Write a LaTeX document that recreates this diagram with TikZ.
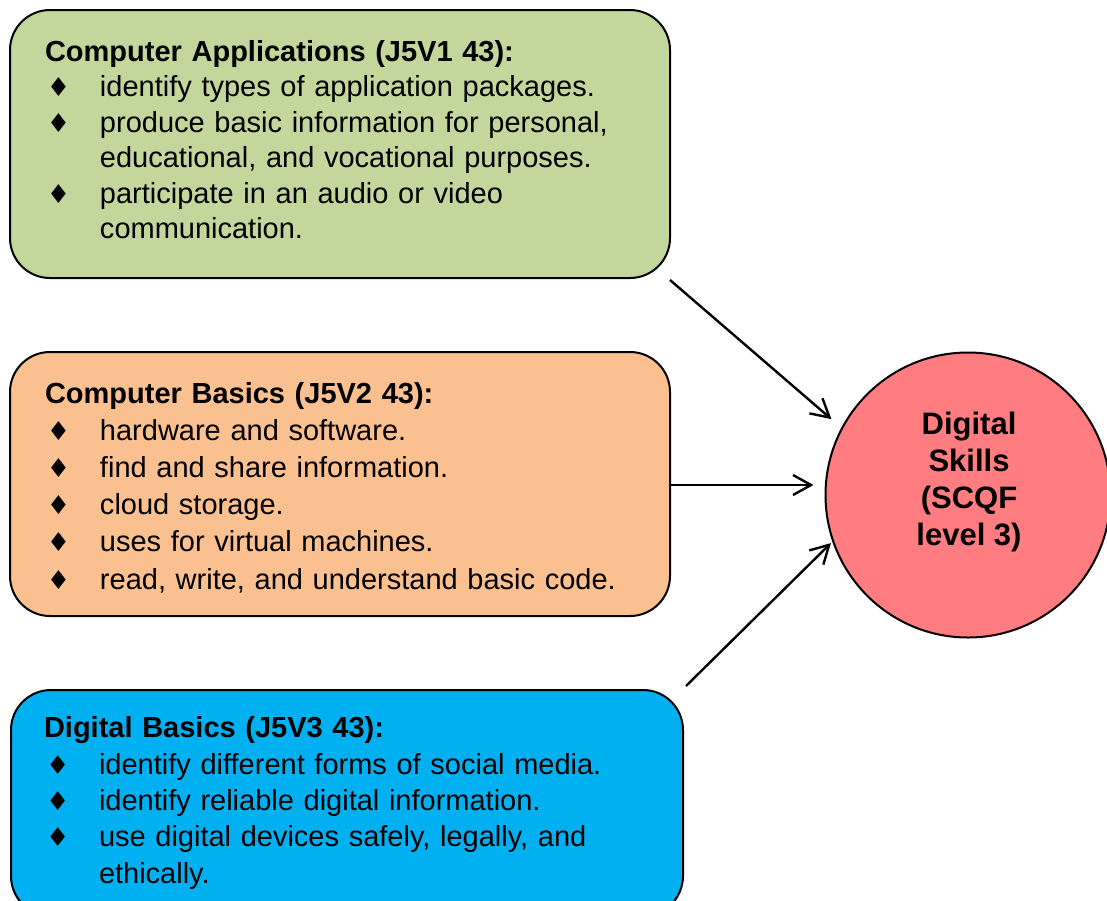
\documentclass[tikz,border=0pt]{standalone}
\usepackage{fontspec}
\setmainfont{Liberation Sans}
\newfontfamily\symfont{DejaVu Sans}
\usetikzlibrary{arrows.meta}

\definecolor{appgreen}{RGB}{195,214,155}
\definecolor{basicorange}{RGB}{250,192,144}
\definecolor{digitalblue}{RGB}{0,176,240}
\definecolor{skillred}{RGB}{255,124,128}

% bullet and hanging indent for the list items
\newcommand{\itemmark}{\makebox[27.5pt][l]{\hspace{1pt}{\symfont\fontsize{13pt}{13pt}\selectfont ♦}}}
\newcommand{\hang}{\hspace*{27.5pt}}

\tikzset{
  unitbox/.style={draw=black, line width=1pt, rounded corners=20pt,
    align=left, inner xsep=17.5pt, inner ysep=0pt},
  skillcircle/.style={circle, draw=black, line width=1pt, fill=skillred,
    minimum size=142.5pt, inner sep=0pt},
  feed/.style={draw=black, line width=1.2pt,
    -{Straight Barb[length=9pt,width=10pt,line width=1.2pt]}}
}

\begin{document}
\begin{tikzpicture}[x=0.5pt,y=-0.5pt]
  \useasboundingbox (0,0) rectangle (1107,900);
  \clip (0,0) rectangle (1107,900);

  % the three units
  \node[unitbox, fill=appgreen, text width=295pt, minimum height=134pt,
        font=\fontsize{14.5pt}{17.75pt}\selectfont] (apps) at (340,144)
  {\textbf{Computer Applications (J5V1 43):}\\
   \itemmark identify types of application packages.\\
   \itemmark produce basic information for personal,\\
   \hang educational, and vocational purposes.\\
   \itemmark participate in an audio or video\\
   \hang communication.\rule[-4.5pt]{0pt}{4.5pt}};

  \node[unitbox, fill=basicorange, text width=295pt, minimum height=132pt,
        font=\fontsize{14.5pt}{18.6pt}\selectfont] (basics) at (340,484)
  {\rule{0pt}{14pt}\textbf{Computer Basics (J5V2 43):}\\
   \itemmark hardware and software.\\
   \itemmark find and share information.\\
   \itemmark cloud storage.\\
   \itemmark uses for virtual machines.\\
   \itemmark read, write, and understand basic code.};

  \node[unitbox, fill=digitalblue, text width=303pt, minimum height=113pt,
        inner xsep=16.5pt,
        font=\fontsize{14.5pt}{18.2pt}\selectfont] (digital) at (347,803)
  {\textbf{Digital Basics (J5V3 43):}\\
   \itemmark identify different forms of social media.\\
   \itemmark identify reliable digital information.\\
   \itemmark use digital devices safely, legally, and\\
   \hang ethically.};

  % the award they lead to
  \node[skillcircle] (skills) at (968,495) {};
  \node[align=center, font=\bfseries\fontsize{15.5pt}{18.4pt}\selectfont]
    (skillstext) at (969,482) {Digital\\Skills\\(SCQF\\level 3)};

  % connectors
  \coordinate (f1) at (670,280);
  \coordinate (f2) at (670,485);
  \coordinate (f3) at (686,686);
  \draw[feed, shorten >=6.5pt] (f1) -- (skills.152);
  \draw[feed, shorten >=5.5pt] (f2) -- (f2 -| skills.west);
  \draw[feed, shorten >=1pt] (f3) -- (skills.199);
\end{tikzpicture}
\end{document}
